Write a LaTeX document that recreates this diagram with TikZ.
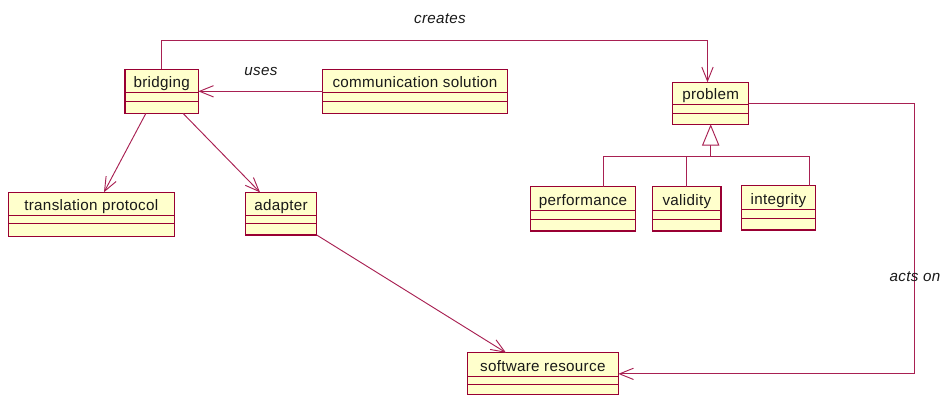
\documentclass[tikz,border=0pt]{standalone}
\usepackage{fontspec}
\setmainfont{Liberation Sans}[LetterSpace=2]
\usetikzlibrary{arrows.meta,fit}

\definecolor{umlborder}{RGB}{153,0,51}
\definecolor{umlline}{RGB}{168,32,82}
\definecolor{umlfill}{RGB}{255,255,204}
\definecolor{umltext}{RGB}{25,25,25}

\tikzset{
  classbox/.style={draw=umlborder, fill=umlfill, line width=0.9pt, inner sep=0pt, outer sep=0pt},
  classname/.style={anchor=base, font=\fontsize{11.4}{13}\selectfont, text=umltext, inner sep=0pt},
  assoc/.style={draw=umlline, line width=0.7pt, -{Straight Barb[length=10.5pt,width=8.5pt]}},
  plainlink/.style={draw=umlline, line width=0.7pt},
  genlink/.style={draw=umlline, line width=0.7pt, -{Triangle[open,length=16pt,width=13pt,fill=white]}},
  rolelabel/.style={font=\fontsize{11.4}{13}\selectfont\itshape, text=umltext, inner sep=0pt}
}

% #1 node name, #2 class name, (#3,#4) top left, (#5,#6) bottom right,
% #7 and #8 the y of the two compartment rules
\newcommand\umlclass[8]{%
  \node[classbox, fit={(#3,#4) (#5,#6)}] (#1) {};
  \draw[umlborder, line width=0.7pt] (#3,#7) -- (#5,#7) (#3,#8) -- (#5,#8);
  \node[classname] (#1-title) at ({(#3+#5)/2},{#7-5}) {#2};
}

\begin{document}
\begin{tikzpicture}[x=0.75pt, y=-0.75pt]
  \useasboundingbox (0,0) rectangle (940,394);
  \clip (0,0) rectangle (940,394);

  % classes
  \umlclass{bridging}{bridging}{125}{69.3}{198.3}{113.3}{92}{101}
  \umlclass{comm}{communication solution}{322.7}{69.3}{507.3}{113.3}{92}{101}
  \umlclass{translation}{translation protocol}{8.3}{192.3}{174.3}{236.7}{215}{223.3}
  \umlclass{adapter}{adapter}{245.3}{192.3}{316.7}{235}{215}{223.3}
  \umlclass{problem}{problem}{672.7}{82.3}{748.7}{124.3}{104.3}{113.3}
  \umlclass{performance}{performance}{530.7}{186.7}{635.3}{231}{210.7}{219.7}
  \umlclass{validity}{validity}{652.7}{186.7}{721}{231}{210.7}{219.7}
  \umlclass{integrity}{integrity}{741.7}{185.7}{815.3}{230}{209.3}{218.3}
  \umlclass{software}{software resource}{467.3}{352.7}{618.3}{395}{376}{384}

  % associations
  \draw[assoc] (comm.west) -- (bridging.east);
  \coordinate (creates-bend) at (707.5,40.3);
  \draw[assoc] (bridging.north) |- (creates-bend) -- (creates-bend |- problem.north);
  \draw[assoc] ([xshift=-11.8pt]bridging.south) -- ([xshift=9.5pt]translation.north);
  \draw[assoc] ([xshift=16pt]bridging.south) -- ([xshift=-15.75pt]adapter.north);
  \draw[assoc] (adapter.south east) -- ([xshift=-27.6pt]software.north);
  \coordinate (acts-bend) at (914,103.3);
  \draw[assoc] (problem.east) -- (acts-bend) |- (software.east);

  % generalization
  \coordinate (gen-bus) at (710.7,156.7);
  \draw[plainlink] ([xshift=15pt]performance.north) |- (gen-bus);
  \draw[plainlink] ([xshift=23.1pt]integrity.north) |- (gen-bus);
  \draw[plainlink] (validity.north) -- (validity.north |- gen-bus);
  \draw[genlink] (gen-bus) -- (problem.south);

  % role labels
  \node[rolelabel] (creates-label) at (440,18.5) {creates};
  \node[rolelabel] (uses-label) at (261,71) {uses};
  \node[rolelabel] (acts-label) at (915,277) {acts on};
\end{tikzpicture}
\end{document}
